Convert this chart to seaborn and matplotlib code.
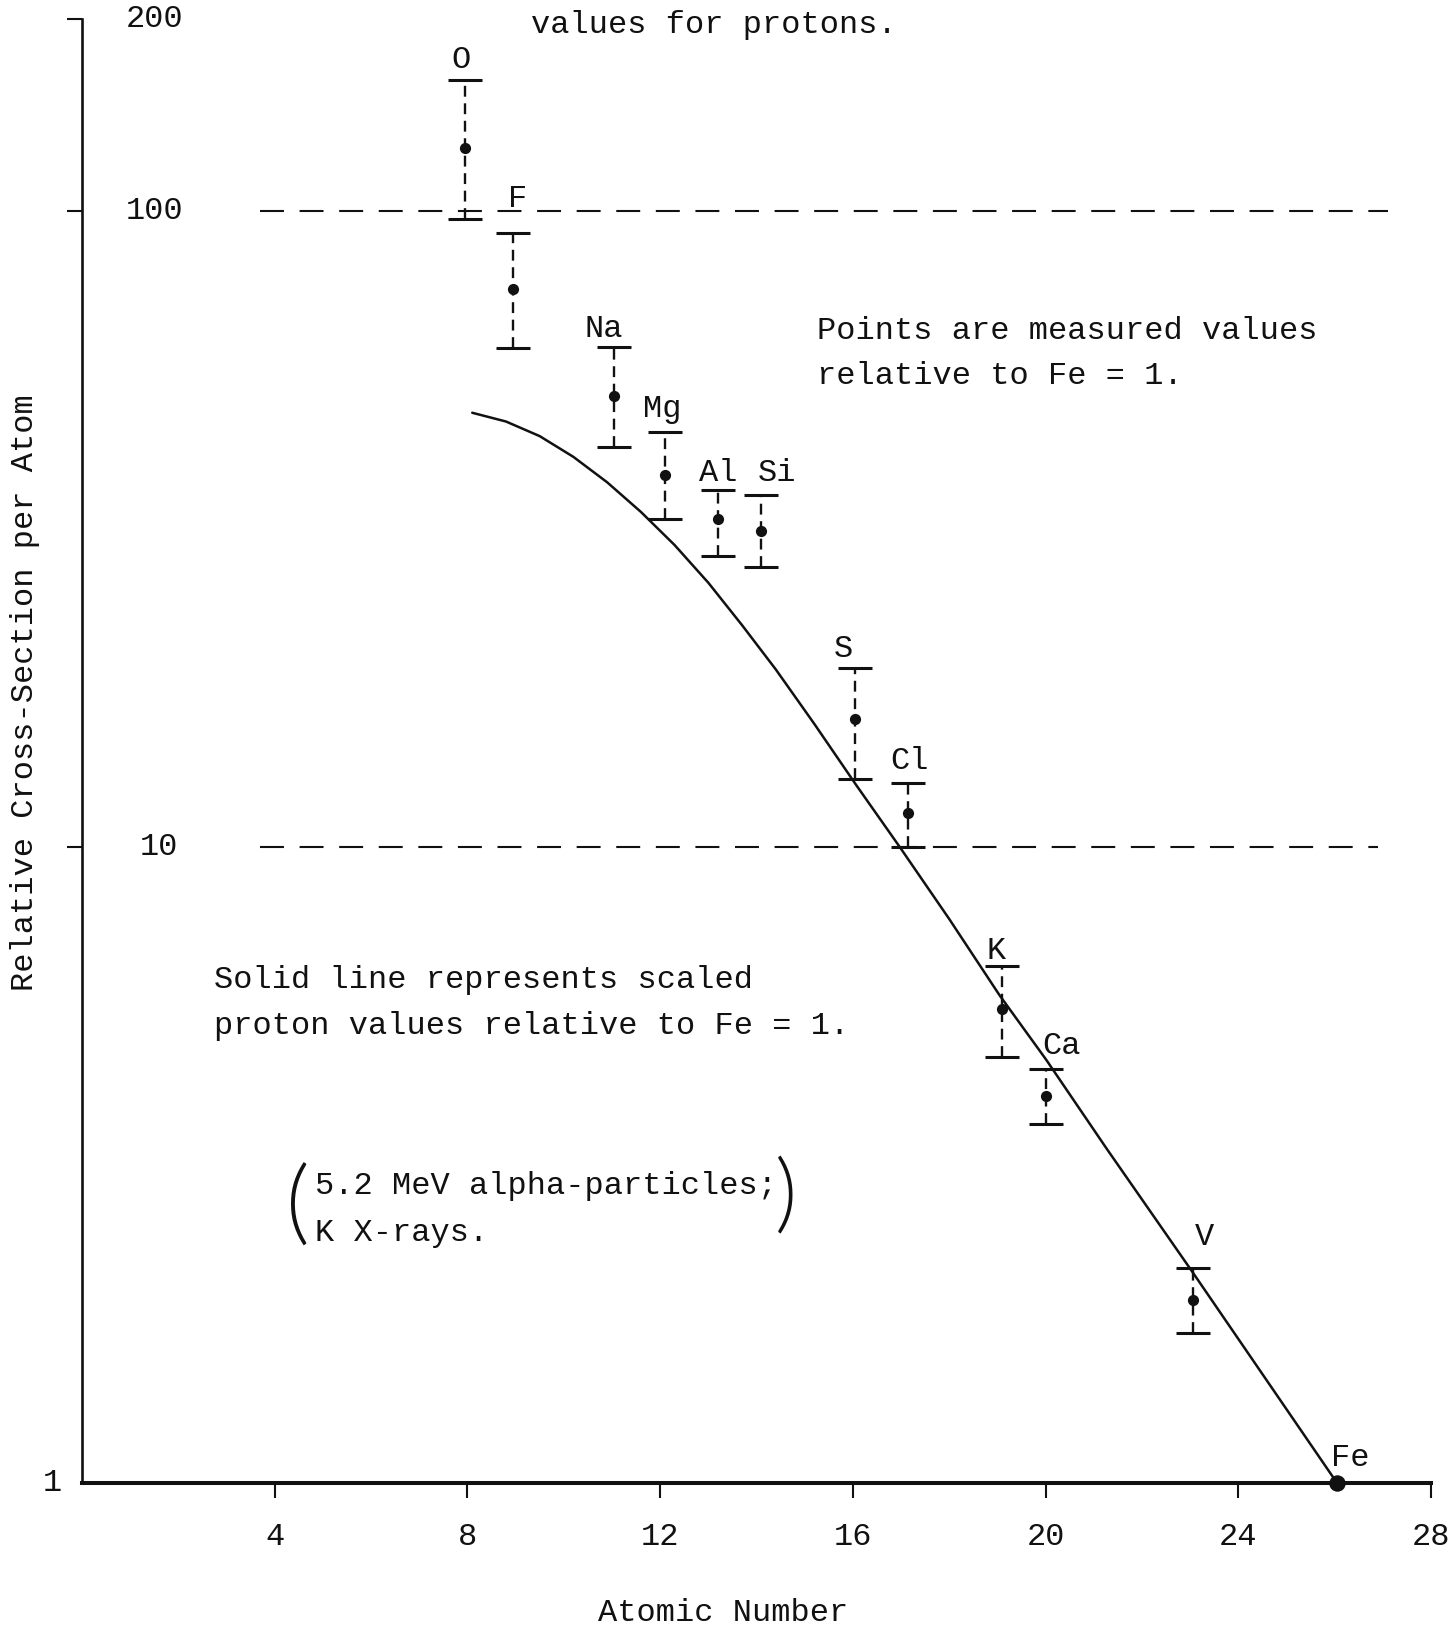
import numpy as np
import pandas as pd
import matplotlib
matplotlib.use("Agg")
import matplotlib.pyplot as plt
import seaborn as sns
from matplotlib.ticker import FixedLocator, NullLocator, NullFormatter

# ---------------- data ----------------
elements = ["O", "F", "Na", "Mg", "Al", "Si", "S", "Cl", "K", "Ca", "V", "Fe"]
atomic_pos = [7.95, 8.95, 11.05, 12.1, 13.2, 14.1, 16.05, 17.15, 19.1, 20.0, 23.05, 26.05]
measured = [125.5, 75.2, 51.1, 38.4, 32.7, 31.4, 15.9, 11.3, 5.55, 4.06, 1.94, 1.0]
err_upper = [160.2, 92.2, 61.0, 44.8, 36.4, 35.7, 19.1, 12.6, 6.50, 4.47, 2.18]
err_lower = [97.1, 60.7, 42.5, 32.8, 28.6, 27.5, 12.8, 10.0, 4.67, 3.67, 1.72]

curve_z = [8.10, 8.8, 9.5, 10.2, 10.9, 11.6, 12.3, 13.0, 13.7, 14.4, 15.2,
           16.07, 16.97, 18.0, 19.04, 20.01, 21.26, 23.06, 26.05]
curve_val = [48.1, 46.6, 44.2, 41.0, 37.4, 33.6, 29.8, 26.0, 22.3, 19.0, 15.6,
             12.5, 10.0, 7.7, 5.85, 4.63, 3.36, 2.14, 1.0]

x_ticks = [4, 8, 12, 16, 20, 24, 28]
y_tick_vals = [200, 100, 10]
y_tick_labels = ["200", "100", "10"]
ref_levels = [100, 10]

# ---------------- style ----------------
sns.set_theme(style="white")
FONT = ["Liberation Mono", "DejaVu Sans Mono", "DejaVu Sans"]
plt.rcParams["font.family"] = FONT
plt.rcParams["font.size"] = 23
INK = "#111111"

fig = plt.figure(figsize=(14.5, 16.26), dpi=100)
ax = fig.add_axes([82 / 1450, 1 - 1483 / 1626, (1431 - 82) / 1450, (1483 - 19) / 1626])
ax.set_yscale("log")
ax.set_xlim(0, 28)
ax.set_ylim(1, 200)

# reference dashed lines at 100 and 10
ax.hlines(ref_levels[0], 3.69, 27.1, colors=INK, lw=1.5, linestyles=(0, (11.5, 7.5)))
ax.hlines(ref_levels[1], 3.69, 26.9, colors=INK, lw=1.5, linestyles=(0, (11.5, 7.5)))

# solid curve (scaled proton values)
curve = pd.DataFrame({"z": curve_z, "val": curve_val})
sns.lineplot(data=curve, x="z", y="val", ax=ax, color=INK, lw=1.8, sort=False)

# measured points with dashed error bars
n_err = len(err_upper)
xs = np.array(atomic_pos[:n_err])
ys = np.array(measured[:n_err])
yerr = np.vstack([ys - np.array(err_lower), np.array(err_upper) - ys])
eb = ax.errorbar(xs, ys, yerr=yerr, fmt="none", ecolor=INK, elinewidth=1.7,
                 capsize=12.5, capthick=2.2)
for lc in eb[2]:
    lc.set_linestyle((0, (4.6, 2.8)))

pts = pd.DataFrame({"z": atomic_pos, "val": measured, "el": elements})
sns.scatterplot(data=pts.iloc[:n_err], x="z", y="val", ax=ax, color=INK,
                s=65, edgecolor=INK, linewidth=0, zorder=5)
sns.scatterplot(data=pts.iloc[n_err:], x="z", y="val", ax=ax, color=INK,
                s=140, edgecolor=INK, linewidth=0, zorder=5, clip_on=False)

# element labels
label_offsets = {"O": (-4, 20), "F": (4, 34), "Na": (-11, 18), "Mg": (-3, 23),
                 "Al": (0, 17), "Si": (16, 22), "S": (-12, 19), "Cl": (1, 22),
                 "K": (-6, 15), "Ca": (16, 23), "V": (12, 31), "Fe": (13, 25)}
for i, el in enumerate(elements):
    anchor_y = err_upper[i] if i < n_err else measured[i]
    ax.annotate(el, xy=(atomic_pos[i], anchor_y), xytext=label_offsets[el],
                textcoords="offset pixels", ha="center", va="center",
                fontsize=23, color=INK)

# axes styling
for s in ["top", "right"]:
    ax.spines[s].set_visible(False)
ax.spines["left"].set_color(INK)
ax.spines["left"].set_linewidth(1.9)
ax.spines["bottom"].set_color(INK)
ax.spines["bottom"].set_linewidth(2.9)

ax.xaxis.set_major_locator(FixedLocator(x_ticks))
ax.set_xticklabels([str(t) for t in x_ticks])
ax.tick_params(axis="x", direction="out", length=10.8, width=1.5, color=INK,
               pad=17, labelsize=23, labelcolor=INK, bottom=True)
ax.yaxis.set_major_locator(FixedLocator(y_tick_vals))
ax.yaxis.set_major_formatter(NullFormatter())
ax.yaxis.set_minor_locator(NullLocator())
ax.yaxis.set_minor_formatter(NullFormatter())
ax.tick_params(axis="y", direction="out", length=10.8, width=1.5, color=INK, left=True)
y_label_x = [1.5, 1.5, 1.6]
for v, lab, lx in zip(y_tick_vals, y_tick_labels, y_label_x):
    ax.text(lx, v, lab, ha="center", va="center", fontsize=23, color=INK)
ax.text(-0.62, 1.0, "1", ha="center", va="center", fontsize=23, color=INK, clip_on=False)

ax.set_xlabel("Atomic Number", fontsize=23, color=INK)
ax.xaxis.set_label_coords((723 - 82) / 1349, (1483 - 1613) / 1464)
ax.xaxis.label.set_va("center")
ax.set_ylabel("Relative Cross-Section per Atom", fontsize=23, color=INK, va="center")
ax.yaxis.set_label_coords((25 - 82) / 1349, (1483 - 693) / 1464)

# annotations
ax.text(15.25, 59.6, "Points are measured values\nrelative to Fe = 1.",
        ha="left", va="center", linespacing=1.63, fontsize=23, color=INK)
ax.text(2.75, 5.68, "Solid line represents scaled\nproton values relative to Fe = 1.",
        ha="left", va="center", linespacing=1.68, fontsize=23, color=INK)
ax.text(4.83, 2.69, "5.2 MeV alpha-particles;\nK X-rays.",
        ha="left", va="center", linespacing=1.72, fontsize=23, color=INK)
PAREN_FONT = ["Lato", "Liberation Serif", "DejaVu Sans"]
ax.text(4.47, 2.71, "(", ha="center", va="center", fontsize=66, color=INK,
        family=PAREN_FONT, fontweight=300)
ax.text(14.61, 2.81, ")", ha="center", va="center", fontsize=62, color=INK,
        family=PAREN_FONT, fontweight=300)

fig.text(531 / 1450, 1 - 25 / 1626, "values for protons.", ha="left", va="center",
         fontsize=23, color=INK)

fig.savefig("out.png", dpi=100, facecolor="white")
